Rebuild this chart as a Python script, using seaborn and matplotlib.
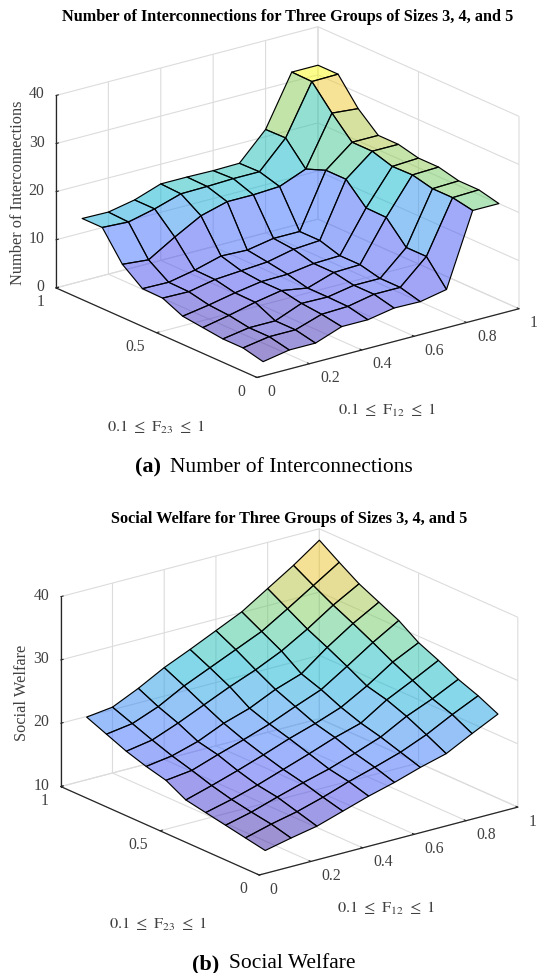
import numpy as np
import matplotlib
matplotlib.use('Agg')
import matplotlib.pyplot as plt
import seaborn as sns
from mpl_toolkits.mplot3d import proj3d

W, H = 537, 973

f12 = [0.1, 0.2, 0.3, 0.4, 0.5, 0.6, 0.7, 0.8, 0.9, 1.0]
f23 = [0.1, 0.2, 0.3, 0.4, 0.5, 0.6, 0.7, 0.8, 0.9, 1.0]

# one row per F12 value, columns run along F23
interconnections = [
    [0, 1, 1, 1.5, 2, 3.9, 4, 7.2, 13, 13],
    [1, 1.9, 1.9, 2.6, 2.9, 3.8, 3.9, 6.7, 12.7, 12.9],
    [1, 1.9, 1.9, 3.9, 4, 4.9, 5, 10, 14, 14],
    [3, 3.7, 4.1, 4.9, 4.9, 5.3, 6.5, 13, 15.7, 15.9],
    [3, 3.9, 4, 4, 5, 5.7, 6.3, 14.5, 15.8, 15.9],
    [4, 5, 5, 5.8, 5.8, 6.9, 7.3, 14.5, 16, 15.8],
    [3.9, 5, 5, 6, 6, 7.3, 7.3, 14.8, 16, 15.9],
    [5, 10, 10, 14.4, 14.5, 18.6, 18.6, 17, 21.6, 21.5],
    [20, 20.8, 20.8, 21.8, 21.7, 23, 23, 27.2, 31.9, 32],
    [20, 21, 21, 22, 22, 23, 23, 26.7, 32, 32],
]
welfare = [
    [11.4, 12, 12.6, 13.2, 13.8, 15.5, 16.3, 17.3, 18.6, 19.9],
    [12.3, 13.1, 13.6, 14.2, 15, 16, 16.9, 18, 19.2, 20.4],
    [13.1, 14, 14.9, 15.4, 16.3, 17.4, 18.1, 19.6, 20.8, 22.3],
    [14.4, 15.2, 16.1, 16.8, 17.7, 18.7, 19.9, 21.4, 23, 24.5],
    [15.7, 16.6, 17.2, 18.2, 19.2, 20.1, 21.2, 23.2, 24.8, 26.3],
    [16.8, 17.8, 18.6, 19.7, 20.5, 21.8, 23.1, 24.8, 26.6, 28.2],
    [18.1, 19.1, 20.1, 20.9, 22, 23.4, 24.5, 26.7, 28.4, 30.1],
    [19.2, 20.8, 22.3, 23.5, 24.3, 26, 27.6, 29.1, 30.9, 32.7],
    [21.3, 22.9, 24, 25.5, 27, 28.7, 30.3, 31.8, 33.5, 35.3],
    [23.3, 24.8, 26, 27.6, 29, 31.1, 32.6, 34.1, 36.1, 38.2],
]

x_ticks = [0, 0.2, 0.4, 0.6, 0.8, 1]
x_labels = ['0', '0.2', '0.4', '0.6', '0.8', '1']
y_ticks = [0, 0.5, 1]
y_labels = ['0', '0.5', '1']
z_ticks_a = [0, 10, 20, 30, 40]
z_ticks_b = [10, 20, 30, 40]

parula = [(0.2422, 0.1504, 0.6603), (0.2803, 0.2782, 0.9221), (0.2440, 0.4358, 0.9988),
          (0.1540, 0.5902, 0.9218), (0.0297, 0.7082, 0.8163), (0.1938, 0.7758, 0.6251),
          (0.5044, 0.7993, 0.3480), (0.8634, 0.7406, 0.1596), (0.9892, 0.8136, 0.1885),
          (0.9769, 0.9839, 0.0805)]

sns.set_theme(style='white')
plt.rcParams['font.family'] = ['Liberation Serif', 'DejaVu Serif']
plt.rcParams['mathtext.fontset'] = 'stix'
cmap = sns.blend_palette(parula, n_colors=64, as_cmap=True)

TEXT = '#404040'


def corner_px(ax, x, y, z):
    px, py, _ = proj3d.proj_transform(x, y, z, ax.get_proj())
    return ax.transData.transform((px, py))


def place_axes(ax, origin, right, zmin):
    # move the square 3D axes so the box floor corners land on the wanted pixels
    side = 500
    ax.set_position([100 / W, 100 / H, side / W, side / H])
    p0 = corner_px(ax, 0, 0, zmin)
    p1 = corner_px(ax, 1, 0, zmin)
    side *= (right[0] - origin[0]) / (p1[0] - p0[0])
    ax.set_position([100 / W, 100 / H, side / W, side / H])
    p0 = corner_px(ax, 0, 0, zmin)
    left = 100 + origin[0] - p0[0]
    bottom = 100 + (H - origin[1]) - p0[1]
    ax.set_position([left / W, bottom / H, side / W, side / H])


def tick_text(fig, ax, point, label, ha, dx, dy):
    # 3D tick labels cannot be offset on their own, so they are placed from the projected tick
    px, py = corner_px(ax, *point)
    fig.text((px + dx) / W, (py - dy) / H, label, ha=ha, va='center',
             fontsize=11.3, color=TEXT)


def draw_panel(fig, z_values, z_ticks, origin, right):
    ax = fig.add_axes([0.1, 0.1, 0.5, 0.5 * W / H], projection='3d')
    ax.set_proj_type('ortho')
    ax.view_init(elev=20, azim=-127.5)
    ax.set_box_aspect((1, 1, 0.62))
    ax.set_facecolor('none')

    X, Y = np.meshgrid(f12, f23, indexing='ij')
    Z = np.array(z_values)
    # faces take the colour of their lowest-index corner, like a faceted surf
    colors = cmap((Z - Z.min()) / (Z.max() - Z.min()))
    colors[..., 3] = 0.5
    ax.plot_surface(X, Y, Z, facecolors=colors[:-1, :-1], rstride=1, cstride=1,
                    shade=False, edgecolor='black', linewidth=0.85)

    zmin = z_ticks[0]
    ax.set_xlim(0, 1, view_margin=0)
    ax.set_ylim(0, 1, view_margin=0)
    ax.set_zlim(zmin, z_ticks[-1], view_margin=0)
    ax.set_xticks(x_ticks, [''] * len(x_ticks))
    ax.set_yticks(y_ticks, [''] * len(y_ticks))
    ax.set_zticks(z_ticks, [''] * len(z_ticks))

    for axis in (ax.xaxis, ax.yaxis, ax.zaxis):
        axis.set_pane_color((1, 1, 1, 0))
        axis.pane.set_edgecolor('none')
        axis.line.set_color('#262626')
        axis.line.set_linewidth(0.9)
        axis._axinfo['grid']['color'] = '#dcdcdc'
        axis._axinfo['grid']['linewidth'] = 0.8
        axis._axinfo['tick']['inward_factor'] = 0
        axis._axinfo['tick']['outward_factor'] = 0.12
        axis._axinfo['tick']['linewidth'] = {True: 0.8, False: 0.8}
        axis._axinfo['tick']['color'] = '#262626'
    place_axes(ax, origin, right, zmin)

    for t, lab in zip(x_ticks, x_labels):
        tick_text(fig, ax, (t, 0, zmin), lab, 'left', 10.5, 14.5)
    for t, lab in zip(y_ticks, y_labels):
        tick_text(fig, ax, (0, t, zmin), lab, 'right', -11.8, 14)
    for t in z_ticks:
        tick_text(fig, ax, (0, 1, t), str(t), 'right', -11.5, -1)
    return ax


def px_text(fig, x, y, s, **kw):
    fig.text(x / W, 1 - y / H, s, ha=kw.pop('ha', 'center'), va=kw.pop('va', 'center'), **kw)


fig = plt.figure(figsize=(W / 100, H / 100), dpi=100, facecolor='white')

draw_panel(fig, interconnections, z_ticks_a, (257, 377.5), (519, 310))
draw_panel(fig, welfare, z_ticks_b, (259.2, 875), (517.8, 809))

f12_label = r'$\mathrm{0.1\ \leq\ F_{12}\ \leq\ 1}$'
f23_label = r'$\mathrm{0.1\ \leq\ F_{23}\ \leq\ 1}$'

px_text(fig, 288, 17, 'Number of Interconnections for Three Groups of Sizes 3, 4, and 5',
        fontsize=11.7, fontweight='bold', color='black')
px_text(fig, 18, 193, 'Number of Interconnections', rotation=90, fontsize=11.8, color=TEXT)
px_text(fig, 156, 427, f23_label, fontsize=11.8, color=TEXT)
px_text(fig, 387, 410, f12_label, fontsize=11.8, color=TEXT)
px_text(fig, 160.5, 467, '(a)', ha='right', fontsize=16, fontweight='bold', color='black')
px_text(fig, 170, 467, 'Number of Interconnections', ha='left', fontsize=15.5, color='black')

px_text(fig, 289, 519, 'Social Welfare for Three Groups of Sizes 3, 4, and 5',
        fontsize=11.7, fontweight='bold', color='black')
px_text(fig, 22, 693, 'Social Welfare', rotation=90, fontsize=11.8, color=TEXT)
px_text(fig, 158, 924, f23_label, fontsize=11.8, color=TEXT)
px_text(fig, 386, 908, f12_label, fontsize=11.8, color=TEXT)
px_text(fig, 219, 964, '(b)', ha='right', fontsize=16, fontweight='bold', color='black')
px_text(fig, 229, 964, 'Social Welfare', ha='left', fontsize=15.5, color='black')

fig.savefig('out.png', dpi=100)
